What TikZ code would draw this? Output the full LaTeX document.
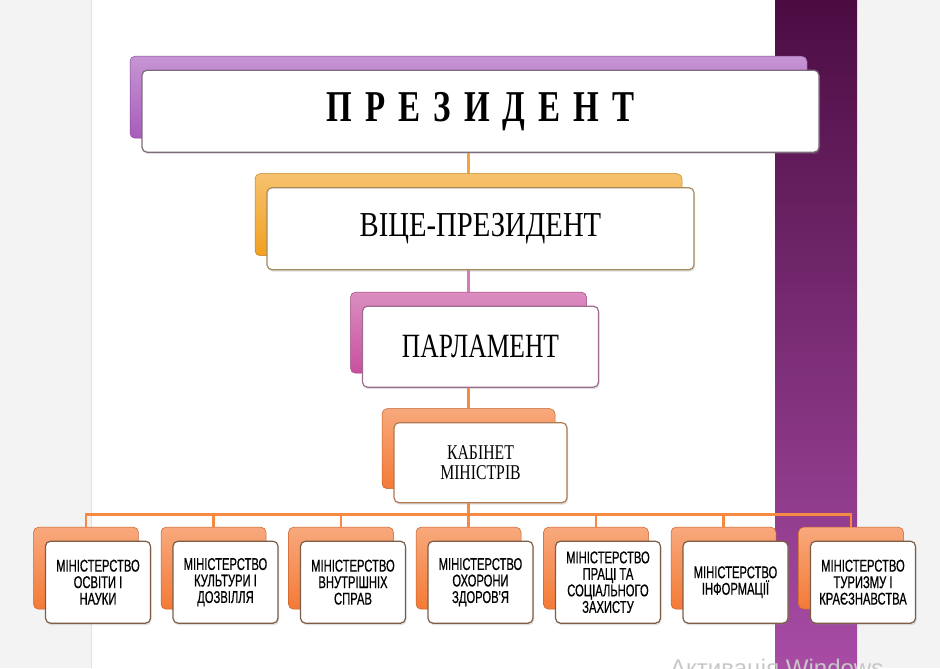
\documentclass[tikz,border=0pt]{standalone}
\usepackage{fontspec}
\setmainfont{Liberation Serif}
\newfontfamily\narrowserif[FakeStretch=0.75]{Liberation Serif}
\newfontfamily\viceserif[FakeStretch=0.82]{Liberation Serif}
\newfontfamily\narrowsans[FakeStretch=0.66,FakeBold=0.6]{Liberation Sans}
\newfontfamily\wmfont{Liberation Sans}
\usetikzlibrary{positioning,shadows}

\definecolor{pagegray}{HTML}{F3F3F3}
\definecolor{bartop}{HTML}{4B0C42}
\definecolor{barbottom}{HTML}{A84CA6}
\definecolor{presback}{HTML}{A85CBC}
\definecolor{viceback}{HTML}{F2A020}
\definecolor{parback}{HTML}{C8509E}
\definecolor{kabback}{HTML}{F47A36}
\definecolor{presframe}{HTML}{7D6B7B}
\definecolor{viceframe}{HTML}{A58A5E}
\definecolor{parframe}{HTML}{9D6C8F}
\definecolor{kabframe}{HTML}{B07A52}
\definecolor{minframe}{HTML}{7D5D46}
\definecolor{linegold}{HTML}{F5A43C}
\definecolor{linepink}{HTML}{D57AB8}
\definecolor{lineorange}{HTML}{F58A40}

\begin{document}
\begin{tikzpicture}[x=1pt,y=-1pt,
  back/.style={rounded corners=5pt,draw=#1!80!black,line width=.5pt,top color=#1!65!white,bottom color=#1,inner sep=0pt},
  front/.style={rounded corners=5pt,draw=#1,line width=1.2pt,fill=white,drop shadow={opacity=.25,shadow xshift=1pt,shadow yshift=-2pt},inner sep=0pt,align=center,xshift=12pt,yshift=-14pt},
  link/.style={line width=2.5pt},
  presbox/.style={minimum width=677pt,minimum height=82pt},
  vicebox/.style={minimum width=427pt,minimum height=82pt},
  parbox/.style={minimum width=236pt,minimum height=81pt},
  kabbox/.style={minimum width=173pt,minimum height=80pt},
  minbox/.style={minimum width=105pt,minimum height=82pt},
  mintext/.style={font=\narrowsans\fontsize{17}{16.5}\selectfont}]

% slide background
\fill[pagegray] (0,0) rectangle (940,668);
\fill[white] (91,0) rectangle (775,668);
\shade[top color=bartop,bottom color=barbottom] (775,0) rectangle (857,668);
\draw[black!12] (91,0) -- (91,668);
\useasboundingbox (0,0) rectangle (940,668);

\node[back=presback,presbox] (presB) at (468.5,97) {};
\node[front=presframe,presbox,font={\narrowserif\bfseries\fontsize{44}{50}\selectfont\spaceskip=13pt\relax}] (pres) at (presB) {П Р Е З И Д Е Н Т};

\node[back=viceback,vicebox,below=35pt of presB] (viceB) {};
\node[front=viceframe,vicebox,font=\viceserif\fontsize{35}{40}\selectfont] (vice) at (viceB) {ВІЦЕ-ПРЕЗИДЕНТ};

\node[back=parback,parbox,below=36pt of viceB] (parB) {};
\node[front=parframe,parbox,font=\narrowserif\fontsize{34}{40}\selectfont] (par) at (parB) {ПАРЛАМЕНТ};

\node[back=kabback,kabbox,below=35pt of parB] (kabB) {};
\node[front=kabframe,kabbox,font=\narrowserif\fontsize{21}{20}\selectfont] (kab) at (kabB) {КАБІНЕТ\\МІНІСТРІВ};

% ministries
\node[back=kabback,minbox,below=38pt of kabB] (m4B) {};
\node[back=kabback,minbox,left=22pt of m4B] (m3B) {};
\node[back=kabback,minbox,left=22pt of m3B] (m2B) {};
\node[back=kabback,minbox,left=22pt of m2B] (m1B) {};
\node[back=kabback,minbox,right=22pt of m4B] (m5B) {};
\node[back=kabback,minbox,right=22pt of m5B] (m6B) {};
\node[back=kabback,minbox,right=22pt of m6B] (m7B) {};

\node[front=minframe,minbox,mintext] (m1) at (m1B) {МІНІСТЕРСТВО\\ОСВІТИ І\\НАУКИ};
\node[front=minframe,minbox,mintext] (m2) at (m2B) {МІНІСТЕРСТВО\\КУЛЬТУРИ І\\ДОЗВІЛЛЯ};
\node[front=minframe,minbox,mintext] (m3) at (m3B) {МІНІСТЕРСТВО\\ВНУТРІШНІХ\\СПРАВ};
\node[front=minframe,minbox,mintext] (m4) at (m4B) {МІНІСТЕРСТВО\\ОХОРОНИ\\ЗДОРОВ'Я};
\node[front=minframe,minbox,mintext] (m5) at (m5B) {МІНІСТЕРСТВО\\ПРАЦІ ТА\\СОЦІАЛЬНОГО\\ЗАХИСТУ};
\node[front=minframe,minbox,mintext] (m6) at (m6B) {МІНІСТЕРСТВО\\ІНФОРМАЦІЇ};
\node[front=minframe,minbox,mintext] (m7) at (m7B) {МІНІСТЕРСТВО\\ТУРИЗМУ І\\КРАЄЗНАВСТВА};

% connectors
\draw[link,linegold] (presB |- pres.south) -- (viceB.north);
\draw[link,linepink] (viceB |- vice.south) -- (parB.north);
\draw[link,lineorange] (parB |- par.south) -- (kabB.north);
\draw[link,lineorange] (kabB |- kab.south) -- ++(0,-11pt) coordinate (bus);
\draw[link,lineorange] (m1B.north) |- (bus) -| (m7B.north);
\draw[link,lineorange] (m2B.north) -- (m2B.north |- bus);
\draw[link,lineorange] (m3B.north) -- (m3B.north |- bus);
\draw[link,lineorange] (m4B.north) -- (m4B.north |- bus);
\draw[link,lineorange] (m5B.north) -- (m5B.north |- bus);
\draw[link,lineorange] (m6B.north) -- (m6B.north |- bus);

\node[anchor=base west,inner sep=0pt,text=black!22,font=\wmfont\fontsize{24}{24}\selectfont] (wm) at (670,676) {Активація Windows};
\end{tikzpicture}
\end{document}
